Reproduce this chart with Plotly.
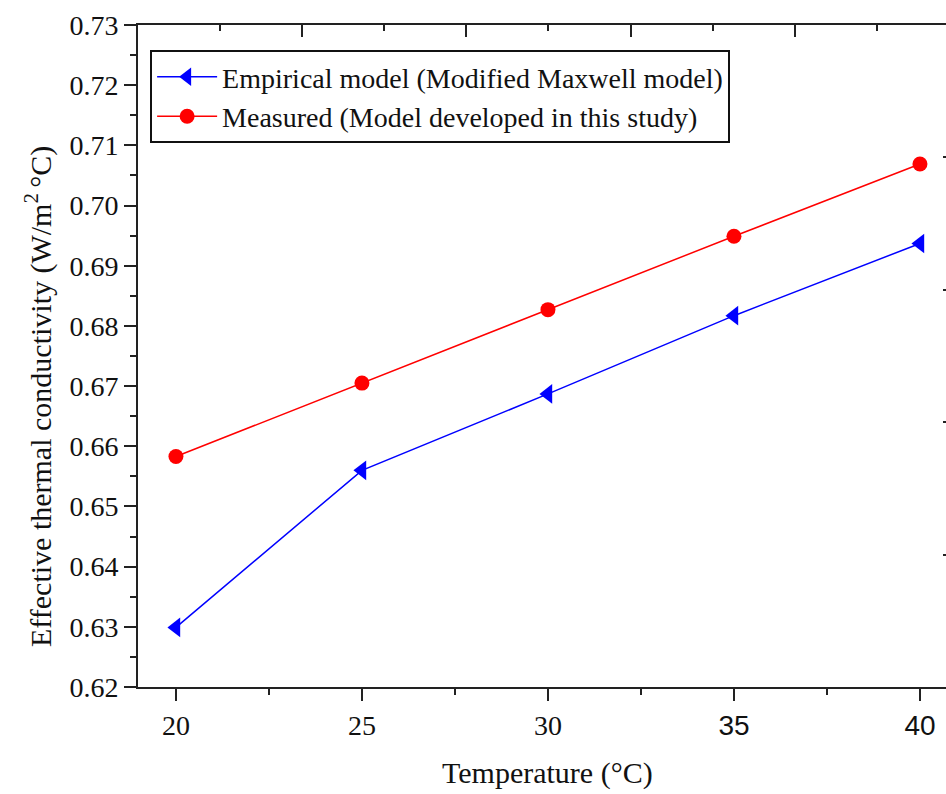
import plotly.graph_objects as go

temperature = [20, 25, 30, 35, 40]
empirical = [0.6299, 0.6560, 0.6687, 0.6817, 0.6937]
measured = [0.6583, 0.6705, 0.6827, 0.6949, 0.7069]
x_tick_vals = [20, 25, 30, 35, 40]
x_tick_text = ["20", "25", "30",
               "<span style='font-family:Liberation Sans'>35</span>",
               "<span style='font-family:Liberation Sans'>40</span>"]
y_tick_vals = [0.62, 0.63, 0.64, 0.65, 0.66, 0.67, 0.68, 0.69, 0.70, 0.71, 0.72, 0.73]
y_tick_text = ["0.62", "0.63", "0.64", "0.65", "0.66", "0.67", "0.68", "0.69", "0.70", "0.71", "0.72", "0.73"]

SERIF = "Liberation Serif"
AX = "#222222"

fig = go.Figure()
fig.add_trace(go.Scatter(
    x=temperature, y=empirical, mode="lines+markers",
    name="Empirical model (Modified Maxwell model)",
    line=dict(color="#0000ff", width=1.5),
    marker=dict(symbol="triangle-left", size=17, color="#0000ff"),
))
fig.add_trace(go.Scatter(
    x=temperature, y=measured, mode="lines+markers",
    name="Measured (Model developed in this study)",
    line=dict(color="#ff0000", width=1.5),
    marker=dict(symbol="circle", size=15, color="#ff0000"),
))
# invisible trace carrying the mirrored top/right tick axes
fig.add_trace(go.Scatter(x=[0], y=[0], xaxis="x2", yaxis="y2", mode="markers",
                         marker=dict(opacity=0), showlegend=False, hoverinfo="skip"))

fig.update_layout(
    width=946, height=794,
    margin=dict(l=138, r=0, t=25, b=107),
    paper_bgcolor="white", plot_bgcolor="white",
    font=dict(family=SERIF, size=28, color="#111111"),
    showlegend=True,
    legend=dict(
        x=0.015, y=0.962, xanchor="left", yanchor="top",
        bgcolor="white", bordercolor="#111111", borderwidth=2,
        font=dict(family=SERIF, size=28, color="#111111"),
        tracegroupgap=0, itemwidth=60,
    ),
    xaxis=dict(
        range=[18.98, 40.70], tickvals=x_tick_vals, ticktext=x_tick_text,
        ticks="outside", ticklen=12, tickwidth=2, tickcolor=AX,
        minor=dict(dtick=2.5, ticks="outside", ticklen=6, tickwidth=2, tickcolor=AX),
        showline=True, linewidth=2, linecolor=AX, showgrid=False, zeroline=False,
        tickfont=dict(family=SERIF, size=28),
    ),
    yaxis=dict(
        range=[0.62, 0.73], tickvals=y_tick_vals, ticktext=y_tick_text,
        ticks="outside", ticklen=12, tickwidth=2, tickcolor=AX,
        minor=dict(dtick=0.005, ticks="outside", ticklen=6, tickwidth=2, tickcolor=AX),
        showline=True, linewidth=2, linecolor=AX, showgrid=False, zeroline=False,
        tickfont=dict(family=SERIF, size=28),
    ),
    xaxis2=dict(
        overlaying="x", side="top", range=[0, 4.921], dtick=1,
        ticks="inside", ticklen=12, tickwidth=2, tickcolor=AX,
        minor=dict(dtick=0.5, ticks="inside", ticklen=6, tickwidth=2, tickcolor=AX),
        showline=True, linewidth=2, linecolor=AX, showticklabels=False,
        showgrid=False, zeroline=False,
    ),
    yaxis2=dict(
        overlaying="y", side="right", range=[0, 5], dtick=1,
        ticks="inside", ticklen=3, tickwidth=2, tickcolor=AX,
        showline=False, showticklabels=False, showgrid=False, zeroline=False,
    ),
    annotations=[
        dict(text="Temperature (°C)", xref="paper", yref="paper",
             x=(547 - 138) / 808, y=-(773 - 687) / 662, xanchor="center", yanchor="middle",
             showarrow=False, font=dict(family=SERIF, size=30, color="#111111")),
        dict(text="Effective thermal conductivity (W/m<sup>2 </sup>°C)", xref="paper", yref="paper",
             x=-(138 - 38) / 808, y=(687 - 397) / 662, xanchor="center", yanchor="middle",
             textangle=-90, showarrow=False, font=dict(family=SERIF, size=30, color="#111111")),
    ],
)

fig.write_html("out.html")
